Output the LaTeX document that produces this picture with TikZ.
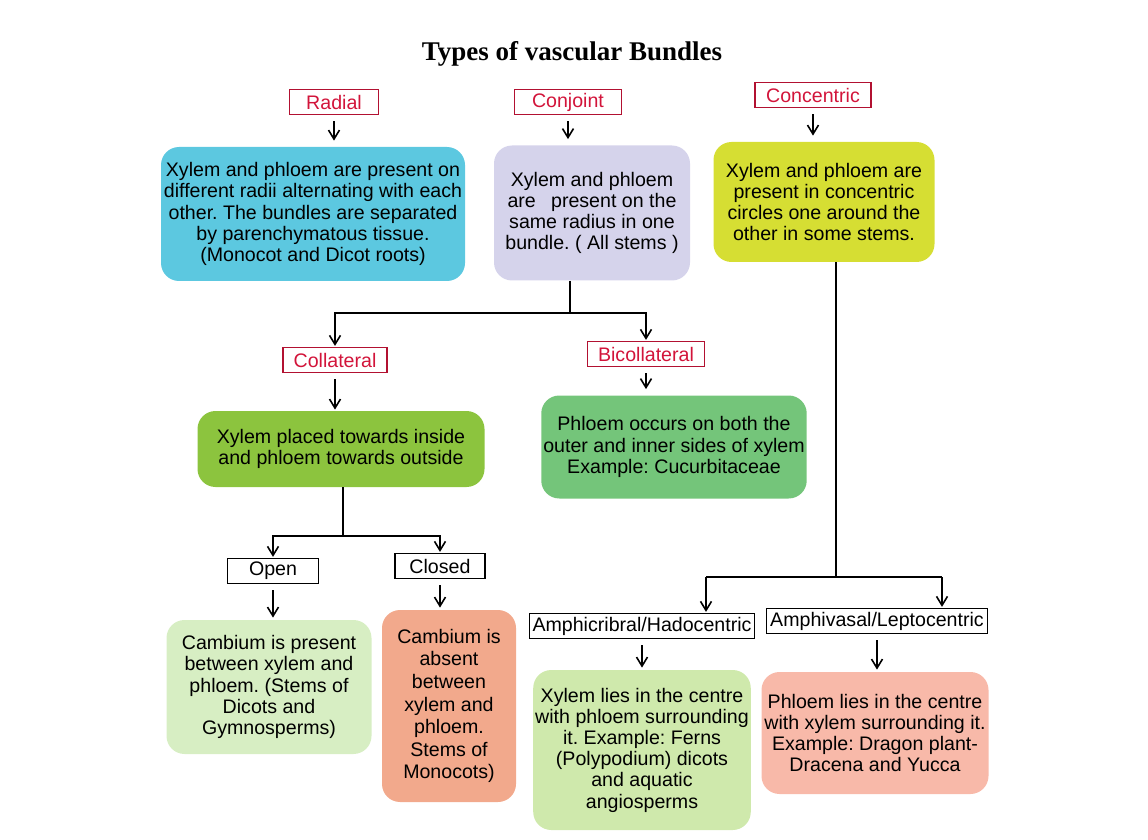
\documentclass[tikz,border=0pt]{standalone}
\usepackage{fontspec}
\setmainfont{Liberation Sans}
\newfontfamily\titlefont{Liberation Serif}
\usetikzlibrary{arrows.meta, positioning, calc}
\frenchspacing

\definecolor{radialblue}{HTML}{5CC8E0}
\definecolor{conjlav}{HTML}{D5D3EB}
\definecolor{concyel}{HTML}{D6DE33}
\definecolor{collgreen}{HTML}{8CC43E}
\definecolor{bicollgreen}{HTML}{74C57A}
\definecolor{opengreen}{HTML}{D7EEC3}
\definecolor{closedsalmon}{HTML}{F2A98C}
\definecolor{amcgreen}{HTML}{CFE9AC}
\definecolor{amvpink}{HTML}{F8B9A9}
\definecolor{tagred}{HTML}{D2143A}

\begin{document}
\begin{tikzpicture}[x=0.5pt, y=-0.5pt, >={Straight Barb[length=4.5pt,width=5.5pt]},
  every node/.style={font=\fontsize{9.8}{10.6}\selectfont},
  lbl/.style={draw=tagred!85!black, text=tagred, line width=0.6pt, inner sep=1.5pt, minimum height=12.5pt},
  tag/.style={draw=black, line width=0.6pt, inner sep=1.5pt, minimum height=12.5pt},
  info/.style={rounded corners=9pt, align=center, inner sep=1pt},
  link/.style={->, line width=0.8pt, shorten <=3pt, shorten >=3pt}]

\useasboundingbox (0,0) rectangle (1148,840);

% Title
\node[font=\titlefont\bfseries\fontsize{13.5}{15}\selectfont] (title) at (572,54) {Types of vascular Bundles};

% Top row labels
\node[lbl,minimum width=44.5pt] (radial) at (334,102) {Radial};
\node[lbl,minimum width=53.5pt] (conjoint) at (568,102) {Conjoint};
\node[lbl,minimum width=58pt] (concentric) at (813,95) {Concentric};

% Top row boxes
\node[info,fill=radialblue,minimum width=152pt,minimum height=67pt] (radialbox) at (313,214)
  {Xylem and phloem are present on\\different radii alternating with each\\other. The bundles are separated\\by parenchymatous tissue.\\(Monocot and Dicot roots)};
\node[info,fill=conjlav,minimum width=98pt,minimum height=67.5pt] (conjbox) at (592,213)
  {Xylem and phloem\\are \enspace present on the\\same radius in one\\bundle. ( All stems )};
\node[info,fill=concyel,minimum width=110.5pt,minimum height=60pt] (concbox) at (824,202)
  {Xylem and phloem are\\present in concentric\\circles one around the\\other in some stems.};

\draw[link] (radial.south) -- (radial.south |- radialbox.north);
\draw[link] (conjoint.south) -- (conjoint.south |- conjbox.north);
\draw[link] (concentric.south) -- (concentric.south |- concbox.north);

% Conjoint branch
\node[lbl,minimum width=52pt] (collateral) at (335,360) {Collateral};
\node[lbl,minimum width=58.5pt] (bicollateral) at (646,354) {Bicollateral};
\node[info,fill=collgreen,minimum width=143.5pt,minimum height=38pt] (collbox) at (341,449)
  {Xylem placed towards inside\\and phloem towards outside};
\node[info,fill=bicollgreen,minimum width=131pt,minimum height=51.5pt] (bicollbox) at (674,447)
  {Phloem occurs on both the\\outer and inner sides of xylem\\Example: Cucurbitaceae};

\coordinate (conjsplit) at (570,313);
\draw[line width=0.8pt] (conjbox.south -| conjsplit) -- (conjsplit);
\draw[link,shorten <=0pt,shorten >=0.5pt] (conjsplit) -| (collateral.north);
\draw[link,shorten <=0pt,shorten >=0.5pt] (conjsplit) -| (bicollateral.north);
\draw[link,shorten >=0.5pt] (collateral.south) -- (collateral.south |- collbox.north);
\draw[link] (bicollateral.south) -- (bicollateral.south |- bicollbox.north);

% Collateral branch
\node[tag,minimum width=45.5pt] (open) at (273,571) {Open};
\node[tag,minimum width=45pt] (closed) at (440,566) {Closed};
\node[info,fill=opengreen,minimum width=102.5pt,minimum height=67pt] (openbox) at (269,687)
  {Cambium is present\\between xylem and\\phloem. (Stems of\\Dicots and\\Gymnosperms)};
\node[info,fill=closedsalmon,minimum width=67pt,minimum height=96pt,font=\fontsize{9.8}{11.3}\selectfont] (closedbox) at (449,706)
  {Cambium is\\absent\\between\\xylem and\\phloem.\\Stems of\\Monocots)};

\coordinate (collsplit) at (343,536);
\draw[line width=0.8pt] (collbox.south -| collsplit) -- (collsplit);
\draw[link,shorten <=0pt,shorten >=0.5pt] (collsplit) -| (open.north);
\draw[link,shorten <=0pt,shorten >=0.5pt] (collsplit) -| (closed.north);
\draw[link,shorten >=1pt] (open.south) -- (open.south |- openbox.north);
\draw[link,shorten >=1pt] (closed.south) -- (closed.south |- closedbox.north);

% Concentric branch
\node[tag,minimum width=112.5pt] (amphicribral) at (642,626) {Amphicribral/Hadocentric};
\node[tag,minimum width=110.5pt] (amphivasal) at (877,621) {Amphivasal/Leptocentric};
\node[info,fill=amcgreen,minimum width=108pt,minimum height=80pt] (amcbox) at (642,750)
  {Xylem lies in the centre\\with phloem surrounding\\it. Example: Ferns\\(Polypodium) dicots\\and aquatic\\angiosperms};
\node[info,fill=amvpink,minimum width=113.5pt,minimum height=61pt] (amvbox) at (875,733)
  {Phloem lies in the centre\\with xylem surrounding it.\\Example: Dragon plant-\\Dracena and Yucca};

\coordinate (concsplit) at (836,577);
\coordinate (amcin) at (706,577);
\coordinate (amvin) at (942,577);
\draw[line width=0.8pt] (concbox.south -| concsplit) -- (concsplit);
\draw[line width=0.8pt] (amcin) -- (amvin);
\draw[link,shorten <=0pt,shorten >=0.5pt] (amcin) -- (amphicribral.north -| amcin);
\draw[link,shorten <=0pt,shorten >=0.5pt] (amvin) -- (amphivasal.north -| amvin);
\draw[link,shorten >=1pt] (amphicribral.south) -- (amphicribral.south |- amcbox.north);
\draw[link,shorten >=1pt] (amphivasal.south) -- (amphivasal.south |- amvbox.north);

\end{tikzpicture}
\end{document}
